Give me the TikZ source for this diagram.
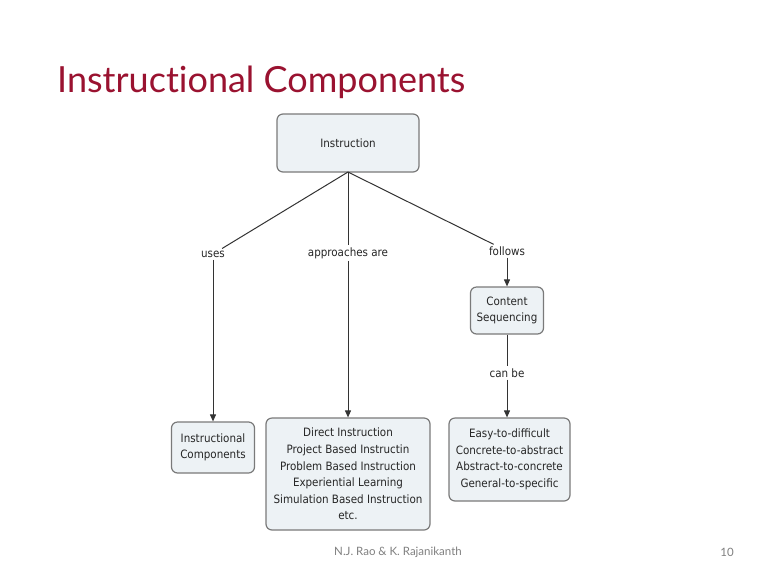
\documentclass[tikz,border=0pt]{standalone}
\usepackage{fontspec}
\setmainfont{DejaVu Sans Condensed}
\newfontfamily\titlefont[Ligatures=NoCommon]{Lato}
\usetikzlibrary{arrows.meta}
\definecolor{boxfill}{HTML}{EDF2F5}
\definecolor{boxline}{HTML}{7A7A7A}
\definecolor{titlered}{HTML}{9A1230}
\definecolor{footgray}{HTML}{808080}
\tikzset{
  cbox/.style={draw=boxline, line width=1.2pt, fill=boxfill, rounded corners=6pt, align=center, font=\fontsize{11.5}{16.6}\selectfont, text=black!85, inner sep=0pt},
  lbl/.style={font=\fontsize{11.5}{13}\selectfont, text=black!85, inner sep=2pt},
  conn/.style={draw=black!80, line width=1pt},
  arr/.style={conn, -{Triangle[length=7pt,width=6pt]}}
}
\begin{document}
\begin{tikzpicture}[x=1pt,y=-1pt]
\useasboundingbox[fill=white] (0,0) rectangle (767,574);
\node[anchor=base west, font=\titlefont\fontsize{36}{40}\selectfont, text=titlered, inner sep=0pt] (title) at (57,92) {Instructional Components};
\node[cbox, minimum width=142pt, minimum height=58pt] (inst) at (348,143) {Instruction};
\node[cbox, minimum width=83pt, minimum height=51pt] (ic) at (213,447.5) {Instructional\\Components};
\node[cbox, minimum width=164pt, minimum height=112pt] (appr) at (348,474) {Direct Instruction\\Project Based Instructin\\Problem Based Instruction\\Experiential Learning\\Simulation Based Instruction\\etc.};
\node[cbox, minimum width=73pt, minimum height=47pt] (cs) at (507,310.5) {Content\\Sequencing};
\node[cbox, minimum width=121pt, minimum height=83pt] (seq) at (509.5,459.5) {Easy-to-difficult\\Concrete-to-abstract\\Abstract-to-concrete\\General-to-specific};
\node[lbl] (uses) at (213,254) {uses};
\node[lbl] (appl) at (348,253) {approaches are};
\node[lbl] (fol) at (507,251) {follows};
\node[lbl] (canbe) at (507,373) {can be};
\coordinate (src) at (348,172);
\draw[conn] (src) -- (uses);
\draw[arr] (uses) -- (uses |- ic.north);
\draw[conn] (src) -- (appl);
\draw[arr] (appl) -- (appl |- appr.north);
\draw[conn] (src) -- (fol);
\draw[arr] (fol) -- (fol |- cs.north);
\draw[conn] (cs.south) -- (canbe);
\draw[arr] (canbe) -- (canbe |- seq.north);
\node[font=\titlefont\fontsize{11.5}{13}\selectfont, text=footgray] (foot) at (398,552) {N.J. Rao \& K. Rajanikanth};
\node[font=\titlefont\fontsize{11.5}{13}\selectfont, text=footgray] (page) at (727,552) {10};
\end{tikzpicture}
\end{document}
